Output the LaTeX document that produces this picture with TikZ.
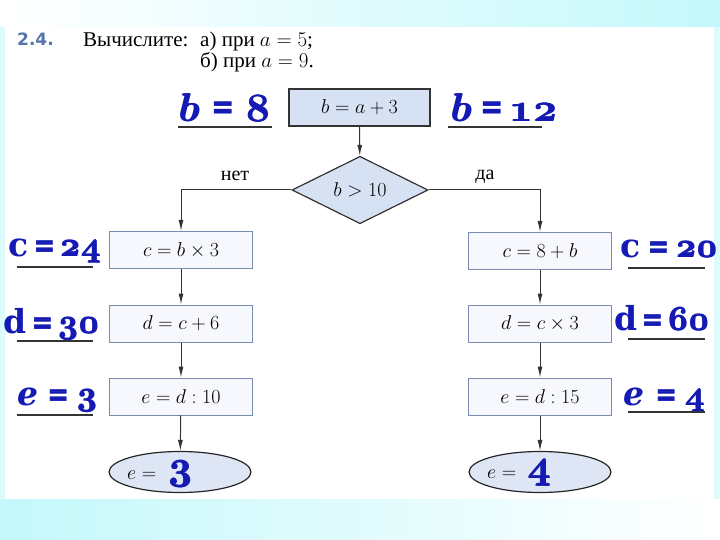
\RequirePackage{fix-cm}
\documentclass[tikz,border=0pt]{standalone}
\usepackage{fontspec}
\setmainfont{Liberation Serif}
\newfontfamily\dvsans{DejaVu Sans}
\newfontfamily\dvserif{DejaVu Serif}
\usetikzlibrary{shapes.geometric,arrows.meta}
\definecolor{ans}{RGB}{20,26,178}
\definecolor{bgc}{RGB}{196,248,250}
\definecolor{titleblue}{RGB}{84,116,172}
\definecolor{topfill}{RGB}{214,226,244}
\definecolor{procfill}{RGB}{246,248,253}
\definecolor{procdraw}{RGB}{120,140,175}
\definecolor{ellfill}{RGB}{222,230,246}
% bold old-style digit / letter, thickened by overprinting
\newcommand\osn[1]{{\usefont{OML}{cmm}{b}{it}\rlap{#1}\rlap{\kern0.6pt\raisebox{0.5pt}{#1}}\kern1.2pt#1}}
\newcommand\lett[1]{{\fontsize{33}{33}\selectfont\dvserif\bfseries #1}}
% thick equals sign: #1 kern before, #2 kern after, #3 size, #4 raise
\newcommand\eqs[4]{\kern#1pt{\fontsize{#3}{#3}\selectfont\bfseries\raisebox{#4pt}{\rlap{=}\raisebox{1.6pt}{=}}}\kern#2pt}
\newcommand\fsz{\fontsize{20}{24}\selectfont}
\begin{document}
\begin{tikzpicture}[x=1pt,y=-1pt,
  topbox/.style={draw=black!80, fill=topfill, line width=1.3pt, minimum width=141pt, minimum height=37pt, inner sep=0pt, font=\fsz},
  proc/.style={draw=procdraw, fill=procfill, line width=1pt, minimum width=143pt, minimum height=37pt, inner sep=0pt, font=\fsz},
  cond/.style={diamond, draw=black!80, fill=topfill, line width=1.2pt, minimum width=136pt, minimum height=53pt, inner sep=0pt, font=\fsz},
  term/.style={ellipse, draw=black!85, fill=ellfill, line width=1.2pt, minimum width=142pt, minimum height=41pt, inner sep=0pt},
  arr/.style={draw=black!80, line width=1pt, -{Latex[length=11pt,width=5pt]}},
  ansl/.style={text=ans, font=\fontsize{34}{34}\selectfont, anchor=base west, inner sep=0pt},
  ansb/.style={text=ans, font=\fontsize{40}{40}\selectfont, anchor=base west, inner sep=0pt},
  uline/.style={draw=black!80, line width=1.8pt},
  lbl/.style={font=\fontsize{20}{24}\selectfont, anchor=base, inner sep=0pt},
  ttl/.style={anchor=base west, inner sep=0pt, font=\fontsize{21}{24}\selectfont}]
\useasboundingbox (0,0) rectangle (720,540);
% background
\fill[bgc!60] (0,0) rectangle (720,540);
\shade[left color=white, right color=bgc] (0,0) rectangle (720,27);
\shade[left color=bgc, right color=white] (0,499) rectangle (720,540);
\fill[white] (5,27) rectangle (714,499);
% title
\node[anchor=base west, inner sep=0pt, text=titleblue, font=\fontsize{17}{19}\selectfont\dvsans\bfseries] (num) at (17,46) {2.4.};
\node[ttl] (t1) at (83,47) {Вычислите:};
\node[ttl] (t1b) at (200,47) {а) при $a = 5$;};
\node[ttl] (t2) at (200,68) {б) при $a = 9$.};
% flowchart
\node[topbox] (s) at (359.5,107.5) {$b = a + 3$};
\node[cond] (q) at (360,190) {$b > 10$};
\node[proc] (l1) at (181,250) {$c = b \times 3$};
\node[proc] (l2) at (181,323.5) {$d = c + 6$};
\node[proc] (l3) at (181,396.5) {$e = d : 10$};
\node[proc] (r1) at (540,251) {$c = 8 + b$};
\node[proc] (r2) at (540,323.5) {$d = c \times 3$};
\node[proc] (r3) at (540,396.5) {$e = d : 15$};
\node[term] (le) at (180,472) {};
\node[term] (re) at (540,472) {};
\node[lbl] (no) at (235,181) {нет};
\node[lbl] (yes) at (485,180) {да};
\draw[arr] (s) -- (q);
\draw[arr] (q.west) -| (l1.north);
\draw[arr] (q.east) -| (r1.north);
\draw[arr] (l1) -- (l2);
\draw[arr] (l2) -- (l3);
\draw[arr] (l3) -- (le);
\draw[arr] (r1) -- (r2);
\draw[arr] (r2) -- (r3);
\draw[arr] (r3) -- (re);
% ellipse contents
\node[anchor=base west, inner sep=0pt, font=\fsz] (le1) at (127,479) {$e =$};
\node[anchor=base west, inner sep=0pt, text=ans, font=\fontsize{40}{40}\selectfont] (le2) at (168,479) {\osn{3}};
\node[anchor=base west, inner sep=0pt, font=\fsz] (re1) at (487,478) {$e =$};
\node[anchor=base west, inner sep=0pt, text=ans, font=\fontsize{40}{40}\selectfont] (re2) at (527,478) {\osn{4}};
% answers
\node[ansb] (b8) at (178,122) {\osn{b}\eqs{12}{12}{38}{0.5}\osn{8}};
\draw[uline] (178,127) -- (272,127);
\node[ansb] (b12) at (450,122) {\osn{b}\eqs{9}{6}{38}{0.5}\osn{1}\osn{2}};
\draw[uline] (448,127) -- (542,127);
\node[ansl] (c24) at (8,256) {\lett{c}\eqs{6}{5}{36}{-3.5}\osn{2}\osn{4}};
\draw[uline] (17,267) -- (93,267);
\node[ansl] (d30) at (3,333) {\lett{d}\eqs{6}{5}{36}{-3.5}\osn{3}\osn{0}};
\draw[uline] (17,341) -- (93,341);
\node[ansl] (e3) at (17,405) {\lett{\itshape e}\eqs{10}{8}{36}{-3.5}\osn{3}};
\draw[uline] (17,415) -- (93,415);
\node[ansl] (c20) at (620,257) {\lett{c}\eqs{8}{7}{36}{-3.5}\osn{2}\osn{0}};
\draw[uline] (628,268) -- (705,268);
\node[ansl] (d60) at (614,330) {\lett{d}\eqs{5}{5}{36}{-3.5}\osn{6}\osn{0}};
\draw[uline] (628,339) -- (705,339);
\node[ansl] (e4) at (623,405) {\lett{\itshape e}\eqs{12}{8}{36}{-3.5}\osn{4}};
\draw[uline] (628,412) -- (705,412);
\end{tikzpicture}
\end{document}
